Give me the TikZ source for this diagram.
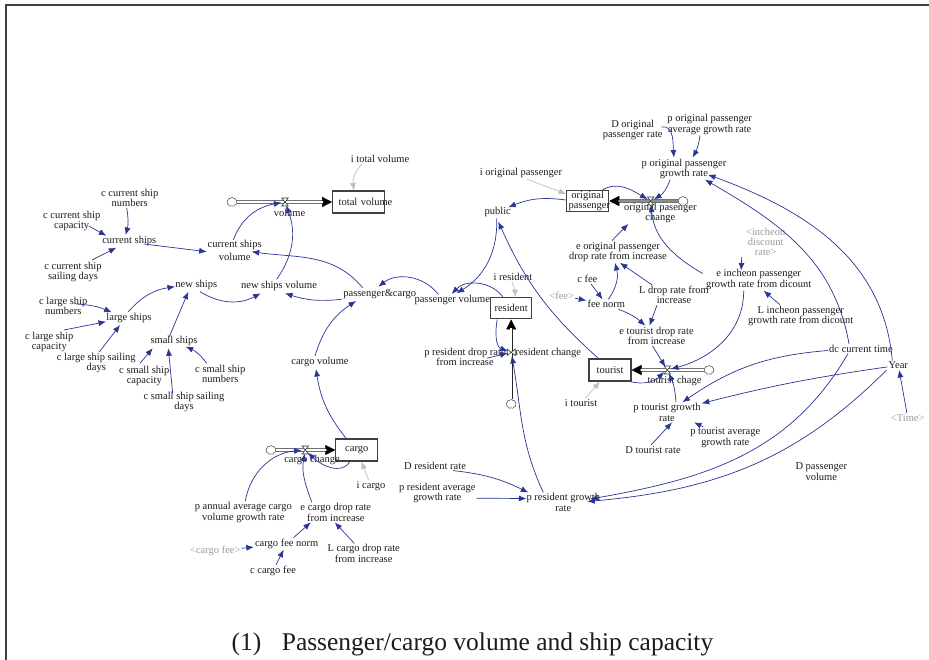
\documentclass[tikz,border=0pt]{standalone}
\usepackage{fontspec}
\setmainfont{Liberation Serif}
\usetikzlibrary{arrows.meta,shapes.symbols}
\definecolor{cblue}{RGB}{40,52,150}
\definecolor{txt}{RGB}{30,27,28}
\newcommand\vf{\fontsize{10.5}{10.4}\selectfont}
\begin{document}
\begin{tikzpicture}[x=1pt,y=-1pt,
  v/.style={align=center, inner sep=1pt, text=txt, font=\vf},
  sv/.style={v, text=black!40},
  stock/.style={draw=black!75, line width=1.1pt, minimum width=42pt, minimum height=22pt, inner sep=0pt, text=txt, font=\vf, align=center, text width=38pt},
  conn/.style={draw=cblue, line width=0.7pt, -{Latex[length=7.5pt,width=6pt]}},
  gconn/.style={draw=black!25, line width=0.7pt, -{Latex[length=7.5pt,width=6pt]}},
  vn/.style={circle, minimum size=7pt, inner sep=0pt},
  cld/.style={cloud, cloud puffs=9, cloud puff arc=120, aspect=1.1, draw=black!70, line width=0.5pt, fill=white, minimum width=10pt, minimum height=9pt, inner sep=0pt},
  pipe/.style={draw=black!85, line width=0.8pt, double=white, double distance=1.8pt},
  pipetip/.style={draw=black, line width=0.5pt, -{Triangle[length=10pt,width=10pt]}},
  pics/valveh/.style={code={\draw[black!80, line width=0.6pt, fill=white] (-3.2,-4) -- (3.2,-4) -- (-3.2,4) -- (3.2,4) -- cycle;}},
  pics/valvev/.style={code={\draw[black!80, line width=0.6pt, fill=white] (-4,-3.2) -- (-4,3.2) -- (4,-3.2) -- (4,3.2) -- cycle;}},
]
\useasboundingbox (0,0) rectangle (929,660);
\fill[white] (0,0) rectangle (929,660);
\draw[line width=2pt, black!75] (6,660) -- (6,5) -- (929,5);

% ---------- variables ----------
\node[v] (ccsn) at (129.7,198) {c current ship\\numbers};
\node[v] (ccsc) at (71.7,221) {c current ship\\capacity};
\node[v] (cs) at (129.3,240.7) {current ships};
\node[v] (ccssd) at (73,272) {c current ship\\sailing days};
\node[v] (csv) at (234.7,250.5) {current ships\\[2.5pt]volume};
\node[v] (vol) at (289.5,212.7) {volume};
\node[v] (ns) at (196.3,285) {new ships};
\node[v] (nsv) at (279,285.7) {new ships volume};
\node[v] (clsn) at (63.3,306) {c large ship\\numbers};
\node[v] (ls) at (129,317.7) {large ships};
\node[v] (clsc) at (49.3,341.7) {c large ship\\capacity};
\node[v] (clssd) at (96.3,363) {c large ship sailing\\days};
\node[v] (ss) at (174,341.3) {small ships};
\node[v] (cssc) at (144.3,375.7) {c small ship\\capacity};
\node[v] (cssn) at (220.3,374) {c small ship\\numbers};
\node[v] (csssd) at (184,402) {c small ship sailing\\days};
\node[v] (itv) at (380,158.7) {i total volume};
\node[stock, minimum width=52pt, text width=46pt] (tv) at (358.7,202) {\makebox[46pt][l]{\hspace{3pt}total volume}};
\node[v] (pc) at (379.7,294.3) {passenger\&cargo};
\node[v] (pv) at (452.3,300.3) {passenger volume};
\node[v] (pub) at (497.7,211.7) {public};
\node[v] (cv) at (320,362) {cargo volume};
\node[stock] (cargo) at (356.8,450) {cargo};
\node[v] (cchg) at (312,460) {cargo change};
\node[v] (icargo) at (371,486) {i cargo};
\node[v] (paac) at (243.3,512.3) {p annual average cargo\\volume growth rate};
\node[v] (ecdr) at (335.8,512.3) {e cargo drop rate\\from increase};
\node[v] (cfn) at (286.7,543.7) {cargo fee norm};
\node[sv] (scf) at (215.3,551) {<cargo fee>};
\node[v] (lcdr) at (363.7,553.5) {L cargo drop rate\\from increase};
\node[v] (ccf) at (273,570.7) {c cargo fee};
\node[v] (iop) at (521,173.3) {i original passenger};
\node[stock, minimum height=21.3pt] (op) at (587.7,201) {original\\passenger};
\node[v] (opc) at (660.3,212.7) {original pasenger\\change};
\node[v] (eopdr) at (618,251.7) {e original passenger\\drop rate from increase};
\node[v] (cfee) at (587.3,279) {c fee};
\node[sv] (sfee) at (561.7,295.7) {<fee>};
\node[v] (fn) at (606.3,304.3) {fee norm};
\node[v] (ldr) at (674,295) {L drop rate from\\increase};
\node[v] (ires) at (513,276.7) {i resident};
\node[stock, minimum width=41pt, minimum height=21.3pt] (res) at (511.2,308.3) {resident};
\node[v] (dopr) at (632.7,130) {D original\\passenger rate};
\node[v] (popagr) at (709.7,124.3) {p original passenger\\average growth rate};
\node[v] (popgr) at (684,168.7) {p original passenger\\growth rate};
\node[sv] (sidr) at (765.7,242) {<incheon\\discount\\rate>};
\node[v] (eipgr) at (758.7,279.5) {e incheon passenger\\growth rate from dicount};
\node[v] (lipgr) at (800.7,315.7) {L incheon passenger\\growth rate from dicount};
\node[v] (etdr) at (656.5,335.7) {e tourist drop rate\\from increase};
\node[stock] (tour) at (610,370) {tourist};
\node[v] (tchg) at (674.5,381.3) {tourist chage};
\node[v] (itour) at (581,403.3) {i tourist};
\node[v] (ptgr) at (667,412.3) {p tourist growth\\rate};
\node[v] (dtr) at (653,449.7) {D tourist rate};
\node[v] (ptagr) at (725.3,437.8) {p tourist average\\growth rate};
\node[v] (dct) at (861,348.7) {dc current time};
\node[v] (year) at (898.3,365.3) {Year};
\node[sv] (stime) at (907.7,417.7) {<Time>};
\node[v] (dpv) at (821.3,471.5) {D passenger\\volume};
\node[v] (prdr) at (465,357.2) {p resident drop rate\\from increase};
\node[v] (rchg) at (548.3,352.7) {resident change};
\node[v] (drr) at (435,465.7) {D resident rate};
\node[v] (pragr) at (437.3,493.2) {p resident average\\growth rate};
\node[v] (prgr) at (563.3,502.5) {p resident growth\\rate};

% ---------- flows ----------
\node[cld] (c1) at (232,202) {};
\node[vn] (v1) at (285,202) {};
\draw[pipetip] (v1.center) -- (tv.west);
\draw[pipe, shorten >=9pt] (c1) -- (tv.west);
\pic at (v1) {valveh};

\node[cld] (c2) at (683,201) {};
\node[vn] (v2) at (650.7,201) {};
\draw[pipetip] (v2.center) -- (op.east);
\draw[pipe, double=black!45, shorten >=9pt] (c2) -- (op.east);
\pic at (v2) {valveh};

\node[cld] (c4) at (511.2,404) {};
\node[vn] (v4) at (511.2,352.3) {};
\draw[pipetip] (v4.center) -- (res.south);
\draw[pipe, shorten >=9pt] (c4) -- (res.south);
\pic at (v4) {valvev};

\node[cld] (c3) at (709,370) {};
\node[vn] (v3) at (667.3,370) {};
\draw[pipetip] (v3.center) -- (tour.east);
\draw[pipe, shorten >=9pt] (c3) -- (tour.east);
\pic at (v3) {valveh};

\node[cld] (c5) at (271,450) {};
\node[vn] (v5) at (305.3,450) {};
\draw[pipetip] (v5.center) -- (cargo.west);
\draw[pipe, shorten >=9pt] (c5) -- (cargo.west);
\pic at (v5) {valveh};

% ---------- connectors: left ----------
\draw[conn] ([shift={(-3,10)}]ccsn.center) to[bend left=12] ([shift={(-3.6,-5.7)}]cs.center);
\draw[conn] ([shift={(17,5)}]ccsc.center) -- ([shift={(-23,-5)}]cs.center);
\draw[conn] ([shift={(19,-12)}]ccssd.center) -- ([shift={(-13,7)}]cs.center);
\draw[conn] ([shift={(14.7,3.3)}]cs.center) -- ([shift={(-28,1.2)}]csv.center);
\draw[conn] ([shift={(-1.4,-10.5)}]csv.center) to[out=70,in=190] (v1);
\draw[conn] ([shift={(-2.3,-6.4)}]nsv.center) to[out=55,in=-70] (v1);
\draw[conn] ([shift={(-17,-6.6)}]pc.center) to[out=130,in=-8] ([shift={(17,1.2)}]csv.center);
\draw[conn] ([shift={(-38,5)}]pc.center) to[bend left=12] ([shift={(6,7.6)}]nsv.center);
\draw[conn] ([shift={(3.7,6.7)}]ns.center) to[bend right=30] ([shift={(-18.3,7.6)}]nsv.center);
\draw[conn] ([shift={(-0.7,-6)}]ls.center) to[bend left=20] ([shift={(-21.3,1.7)}]ns.center);
\draw[conn] ([shift={(12.7,-2)}]clsn.center) to[bend left=10] ([shift={(-17.3,-5.4)}]ls.center);
\draw[conn] ([shift={(14.7,-11.7)}]clsc.center) -- ([shift={(-23,4)}]ls.center);
\draw[conn] ([shift={(3,-11)}]clssd.center) -- ([shift={(-9,7.3)}]ls.center);
\draw[conn] ([shift={(-4.7,-4.6)}]ss.center) -- ([shift={(-8,6.7)}]ns.center);
\draw[conn] ([shift={(-4.3,-12.4)}]cssc.center) -- ([shift={(-21.3,7)}]ss.center);
\draw[conn] ([shift={(-11.3,-8.7)}]csssd.center) -- ([shift={(-5.7,7)}]ss.center);
\draw[conn] ([shift={(-13.6,-10.7)}]cssn.center) to[bend right=15] ([shift={(11.7,5.4)}]ss.center);
\draw[conn] ([shift={(-14,-6)}]pv.center) to[bend right=45] ([shift={(-1.4,-7.6)}]pc.center);
\draw[conn] ([shift={(-5,-6)}]cv.center) to[bend left=20] ([shift={(-23.7,6.7)}]pc.center);
\draw[conn] ([shift={(-10,-10.7)}]cargo.center) to[bend left=15] ([shift={(-4,7)}]cv.center);
\draw[conn] ([shift={(-1,6.6)}]pub.center) to[bend left=30] ([shift={(4.4,-7)}]pv.center);
\draw[conn] ([shift={(-8.5,-11.6)}]res.center) to[bend right=50] ([shift={(-0.6,-6.3)}]pv.center);
\draw[conn] ([shift={(-22,-1)}]op.center) to[bend right=15] ([shift={(10.6,-4.4)}]pub.center);
\draw[conn] ([shift={(-11.7,-11.7)}]tour.center) to[bend left=12] ([shift={(0.6,10)}]pub.center);

% gray initial-value links
\draw[gconn] ([xshift=-18pt]itv.south) to[bend right=25] ([xshift=-4.7pt]tv.north);
\draw[gconn] ([xshift=6pt]iop.south) -- ([shift={(0,-7)}]op.west);
\draw[gconn] ([xshift=-1pt]ires.south) to[bend left=10] ([xshift=4pt]res.north);
\draw[gconn] (itour) -- (tour);
\draw[gconn] (icargo) -- (cargo);

% cargo
\draw[conn] ([xshift=2pt]paac.north) to[out=80,in=185] (v5);
\draw[conn] ([xshift=-24pt]ecdr.north) to[out=110,in=-100] (v5);
\draw[conn] ([xshift=-7pt]cargo.south) to[out=-120,in=-45] (v5);
\draw[conn] (cfn) -- ([xshift=-25pt]ecdr.south);
\draw[conn] (scf) -- (cfn);
\draw[conn] (ccf) -- (cfn);
\draw[conn] (lcdr) -- ([xshift=-1pt]ecdr.south);

% original passenger
\draw[conn] ([shift={(29,-3)}]dopr.center) to[out=10,in=95] ([xshift=-10pt]popgr.north);
\draw[conn] ([xshift=-9.7pt]popagr.south) to[bend left=10] ([xshift=8.7pt]popgr.north);
\draw[conn] ([xshift=-14pt]popgr.south) to[bend left=20] (v2);
\draw[conn] ([xshift=15pt]op.north) to[out=30,in=150] (v2);
\draw[conn] ([xshift=-6pt]eopdr.north) -- ([xshift=-32pt]opc.south);
\draw[conn] ([xshift=2pt]fn.north) to[bend right=25] ([xshift=-3pt]eopdr.south);
\draw[conn] (cfee) -- (fn);
\draw[conn] (sfee) -- (fn);
\draw[conn] ([xshift=-22pt]ldr.north) -- ([xshift=2pt]eopdr.south);
\draw[conn] (fn) to[bend left=10] (etdr);
\draw[conn] ([xshift=-17pt]ldr.south) -- ([xshift=-7pt]etdr.north);
\draw[conn] ([shift={(-56,-6)}]eipgr.center) to[out=150,in=-85] (v2);
\draw[conn] ([shift={(-24,15)}]sidr.center) -- ([shift={(-17.5,-9)}]eipgr.center);
\draw[conn] ([xshift=-21pt]lipgr.north) -- ([xshift=5pt]eipgr.south);

% tourist
\draw[conn] ([xshift=-15pt]eipgr.south) to[out=-90,in=15] (v3);
\draw[conn] ([xshift=-4pt]etdr.south) -- (v3);
\draw[conn] ([xshift=9pt]ptgr.north) to[bend right=10] (v3);
\draw[conn] (tour) to[bend right=30] (v3);
\draw[conn] (dct) to[bend right=15] (ptgr);
\draw[conn] (year) to[bend right=3] (ptgr);
\draw[conn] ([xshift=-2pt]dtr.north) -- ([xshift=5pt]ptgr.south);
\draw[conn] ([xshift=-22pt]ptagr.north) -- ([xshift=27pt]ptgr.south);
\draw[conn] (stime) -- (year);

% time links
\draw[conn] ([xshift=-12pt]dct.north) to[out=100,in=-30] ([shift={(21,11)}]popgr.center);
\draw[conn] ([xshift=-6pt]year.north) to[out=95,in=-20] ([shift={(24,6)}]popgr.center);
\draw[conn] ([xshift=-13pt]dct.south) to[out=240,in=10] ([shift={(27,-3.5)}]prgr.center);
\draw[conn] ([shift={(-12,5)}]year.center) to[out=225,in=5] ([shift={(24,-1)}]prgr.center);

% resident
\draw[conn] ([xshift=18pt]drr.south) to[bend left=10] ([shift={(-35,-10)}]prgr.center);
\draw[conn] ([shift={(0,5)}]pragr.east) -- ([shift={(-37,-4)}]prgr.center);
\draw[conn] ([shift={(-20,-10)}]prgr.center) to[out=115,in=-80] (v4);
\draw[conn] ([shift={(22,1)}]prdr.center) -- (v4);
\draw[conn] ([xshift=-14pt]res.south) to[out=-100,in=160] (v4);

% caption
\node[font=\fontsize{25.5}{30}\selectfont, text=txt] (cap) at (472.5,644) {(1)\hspace{0.8em}Passenger/cargo volume and ship capacity};
\end{tikzpicture}
\end{document}
